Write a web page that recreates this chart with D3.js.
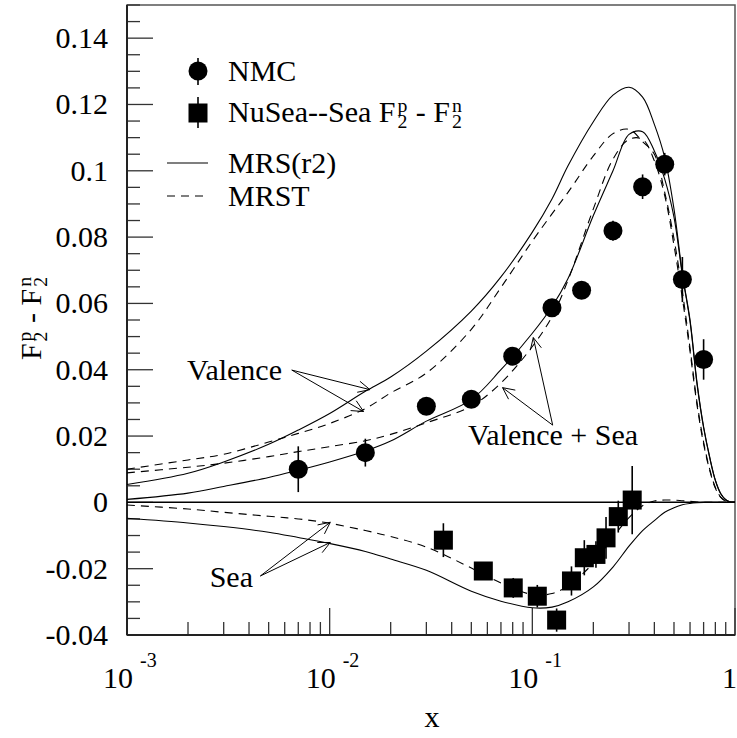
<!DOCTYPE html>
<html>
<head>
<meta charset="utf-8">
<script src="https://cdn.jsdelivr.net/npm/d3@7"></script>
<style>
  html, body { margin: 0; padding: 0; background: #fff; }
  svg { display: block; }
  svg text { font-family: "Liberation Serif", "DejaVu Serif", "Liberation Sans", serif; fill: #000; white-space: pre; }
</style>
</head>
<body>
<svg id="chart" width="737" height="738"></svg>
<script>
// ---- data -------------------------------------------------------------
// NMC measurements of F2p - F2n
const nmcX   = [0.007, 0.015, 0.030, 0.050, 0.080, 0.125, 0.175, 0.25, 0.35, 0.45, 0.55, 0.70];
const nmcY   = [0.0100, 0.0150, 0.0290, 0.0311, 0.0441, 0.0587, 0.0640, 0.0819, 0.0952, 0.1020, 0.0672, 0.0431];
const nmcErr = [0.0069, 0.0042, 0.0020, 0.0020, 0.0020, 0.0020, 0.0020, 0.0030, 0.0037, 0.0034, 0.0068, 0.0061];

// NuSea sea contribution to F2p - F2n
const nuseaX   = [0.0364, 0.0573, 0.0805, 0.1058, 0.1318, 0.156, 0.1805, 0.206, 0.231, 0.2655, 0.311];
const nuseaY   = [-0.0114, -0.0207, -0.0258, -0.0283, -0.0355, -0.0237, -0.0167, -0.0157, -0.0107, -0.0043, 0.0007];
const nuseaErr = [0.0051, 0.0025, 0.0030, 0.0034, 0.0035, 0.0044, 0.0053, 0.0040, 0.0063, 0.0048, 0.0103];

// Parton distribution predictions, sampled on a common x grid
const curveX = [0.001, 0.002, 0.003, 0.005, 0.007, 0.01, 0.015, 0.02, 0.03, 0.05, 0.07, 0.1, 0.125, 0.15,
                0.2, 0.25, 0.3, 0.35, 0.4, 0.45, 0.5, 0.55, 0.6, 0.65, 0.7, 0.75, 0.8, 0.85, 0.9, 0.95, 1.0];
const mrsValence = [0.0054, 0.0088, 0.0122, 0.0175, 0.0218, 0.0268, 0.0335, 0.0378, 0.0456, 0.0577, 0.0680,
                    0.0815, 0.0915, 0.1015, 0.1148, 0.1228, 0.1252, 0.1222, 0.1140, 0.1040, 0.0885, 0.0690,
                    0.0550, 0.0360, 0.0228, 0.0137, 0.0067, 0.0027, 0.0008, 0.0001, 0];
const mrsValSea  = [0.0009, 0.0028, 0.0048, 0.0075, 0.0097, 0.0122, 0.0155, 0.0185, 0.0245, 0.0310, 0.0400,
                    0.0510, 0.0590, 0.0675, 0.0865, 0.1000, 0.1110, 0.1118, 0.1060, 0.0975, 0.0860, 0.0685,
                    0.0545, 0.0355, 0.0225, 0.0135, 0.0066, 0.0026, 0.0008, 0.0001, 0];
const mrsSea     = [-0.0048, -0.0062, -0.0073, -0.0090, -0.0106, -0.0124, -0.0148, -0.0171, -0.0205, -0.0268,
                    -0.0298, -0.0318, -0.0316, -0.0300, -0.0255, -0.0195, -0.0132, -0.0085, -0.0055, -0.0030,
                    -0.0016, -0.0007, -0.0003, -0.0001, 0, 0, 0, 0, 0, 0, 0];
const mrstValence = [0.0100, 0.0128, 0.0145, 0.0182, 0.0208, 0.0238, 0.0283, 0.0330, 0.0390, 0.0522, 0.0648,
                     0.0788, 0.0870, 0.0935, 0.1045, 0.1112, 0.1125, 0.1088, 0.1050, 0.0935, 0.0795, 0.0635,
                     0.0465, 0.0300, 0.0182, 0.0100, 0.0045, 0.0016, 0.0004, 0.0001, 0];
const mrstValSea  = [0.0089, 0.0106, 0.0118, 0.0138, 0.0153, 0.0168, 0.0186, 0.0205, 0.0240, 0.0290, 0.0360,
                     0.0470, 0.0560, 0.0670, 0.0885, 0.1035, 0.1095, 0.1095, 0.1030, 0.0925, 0.0775, 0.0615,
                     0.0455, 0.0292, 0.0176, 0.0097, 0.0043, 0.0015, 0.0004, 0.0001, 0];
const mrstSea     = [-0.0008, -0.0020, -0.0030, -0.0042, -0.0050, -0.0063, -0.0085, -0.0103, -0.0135, -0.0198,
                     -0.0243, -0.0278, -0.0275, -0.0252, -0.0183, -0.0105, -0.0046, -0.0010, 0.0004, 0.0007,
                     0.0007, 0.0005, 0.0003, 0.0001, 0, 0, 0, 0, 0, 0, 0];

// axis tick values
const yMajorTicks = [-0.04, -0.02, 0, 0.02, 0.04, 0.06, 0.08, 0.1, 0.12, 0.14];
const yTickLabels = ["-0.04", "-0.02", "0", "0.02", "0.04", "0.06", "0.08", "0.1", "0.12", "0.14"];
const xDecades    = [0.001, 0.01, 0.1, 1];
const xDecadeExp  = ["-3", "-2", "-1", ""];

// annotation arrows: [label x, label y] -> targets on the curves
const valenceArrow = { from: [0.0065, 0.0399], to: [[0.0158, 0.0340], [0.0147, 0.0274]] };
const valSeaArrow  = { from: [0.126, 0.0233], to: [[0.0713, 0.0346], [0.1011, 0.0497]] };
const seaArrow     = { from: [0.00455, -0.0222], to: [[0.01007, -0.0060], [0.01007, -0.0121]] };

// ---- layout -----------------------------------------------------------
const L = 127, R = 735, T = 5, B = 635;
const svg = d3.select("#chart");
const x = d3.scaleLog().domain([1e-3, 1]).range([L, R]);
const y = d3.scaleLinear().domain([-0.04, 0.15]).range([B, T]);

const FS = 30;      // main text size
const SUPFS = 20;   // exponent size on the x axis

// one text element made of plain pieces and stacked sub/superscripts
function richText(g, parts, size) {
  const t = g.append("text");
  let cx = 0;
  const s = size * 0.66;
  parts.forEach(p => {
    if (typeof p === "string") {
      const ts = t.append("tspan").attr("x", cx).attr("y", 0).attr("font-size", size).text(p);
      cx += ts.node().getComputedTextLength();
    } else {
      cx += 2;
      const a = t.append("tspan").attr("x", cx).attr("y", size * 0.2).attr("font-size", s).text(p.sub);
      const b = t.append("tspan").attr("x", cx).attr("y", -size * 0.33).attr("font-size", s).text(p.sup);
      cx += Math.max(a.node().getComputedTextLength(), b.node().getComputedTextLength()) + 1;
    }
  });
  return cx;
}

// clip for the plotted curves
svg.append("defs").append("clipPath").attr("id", "plotclip")
  .append("rect").attr("x", L).attr("y", T).attr("width", R - L).attr("height", B - T);

// frame
svg.append("rect").attr("x", L).attr("y", T).attr("width", R - L).attr("height", B - T)
  .attr("fill", "none").attr("stroke", "#555").attr("stroke-width", 1.5);

// ---- axes -------------------------------------------------------------
const yAxisG = svg.append("g");
const yMinor = d3.range(-0.04, 0.1501, 0.005).map(v => +v.toFixed(3));
yAxisG.selectAll("line").data(yMinor).join("line")
  .attr("x1", L).attr("x2", d => yMajorTicks.some(m => Math.abs(m - d) < 1e-6) ? L + 26 : L + 13)
  .attr("y1", d => y(d)).attr("y2", d => y(d))
  .attr("stroke", "#333").attr("stroke-width", 1.3);
yAxisG.selectAll("text").data(yMajorTicks).join("text")
  .attr("x", 108).attr("y", d => y(d) + 10)
  .attr("text-anchor", "end").attr("font-size", FS)
  .text((d, i) => yTickLabels[i]);

const xAxisG = svg.append("g");
const xMinor = [];
[0.001, 0.01, 0.1].forEach(dec => { for (let k = 2; k <= 9; k++) xMinor.push(dec * k); });
xAxisG.selectAll("line.minor").data(xMinor).join("line").attr("class", "minor")
  .attr("x1", d => x(d)).attr("x2", d => x(d)).attr("y1", B).attr("y2", B - 13)
  .attr("stroke", "#333").attr("stroke-width", 1.3);
xAxisG.selectAll("line.major").data(xDecades).join("line").attr("class", "major")
  .attr("x1", d => x(d)).attr("x2", d => x(d)).attr("y1", B).attr("y2", B - 27)
  .attr("stroke", "#333").attr("stroke-width", 1.3);
xDecades.forEach((d, i) => {
  if (xDecadeExp[i] === "") {
    xAxisG.append("text").attr("x", 737).attr("y", 688).attr("text-anchor", "end")
      .attr("font-size", FS).text("1");
  } else {
    xAxisG.append("text").attr("x", x(d) + 6).attr("y", 688).attr("text-anchor", "end")
      .attr("font-size", FS).text("10");
    xAxisG.append("text").attr("x", x(d) + 13).attr("y", 667).attr("font-size", SUPFS)
      .text(xDecadeExp[i]);
  }
});

// axis lines
svg.append("line").attr("x1", L).attr("x2", L).attr("y1", T).attr("y2", B)
  .attr("stroke", "#222").attr("stroke-width", 2);
svg.append("line").attr("x1", L).attr("x2", R).attr("y1", B).attr("y2", B)
  .attr("stroke", "#222").attr("stroke-width", 2);

// axis titles
svg.append("text").attr("x", 432).attr("y", 727).attr("text-anchor", "middle")
  .attr("font-size", FS).text("x");
const yTitle = svg.append("g");
const yw = richText(yTitle, ["F", { sub: "2", sup: "p" }, " - F", { sub: "2", sup: "n" }], FS);
yTitle.attr("transform", `translate(41, ${318 + yw / 2}) rotate(-90)`);

// zero line
svg.append("line").attr("x1", L).attr("x2", R).attr("y1", y(0)).attr("y2", y(0))
  .attr("stroke", "#000").attr("stroke-width", 1.5);

// ---- curves -----------------------------------------------------------
const line = d3.line().x(d => x(d[0])).y(d => y(d[1])).curve(d3.curveCatmullRom.alpha(0.5));
const curves = [
  { ys: mrsValence, dash: null }, { ys: mrsValSea, dash: null }, { ys: mrsSea, dash: null },
  { ys: mrstValence, dash: "8,6" }, { ys: mrstValSea, dash: "8,6" }, { ys: mrstSea, dash: "8,6" }
];
const curveG = svg.append("g").attr("clip-path", "url(#plotclip)");
curves.forEach(c => {
  curveG.append("path").datum(curveX.map((xv, i) => [xv, c.ys[i]]))
    .attr("d", line).attr("fill", "none").attr("stroke", "#000").attr("stroke-width", 1.1)
    .attr("stroke-dasharray", c.dash);
});

// ---- data points ------------------------------------------------------
const ptG = svg.append("g");
nmcX.forEach((xv, i) => {
  ptG.append("line").attr("x1", x(xv)).attr("x2", x(xv))
    .attr("y1", y(nmcY[i] - nmcErr[i])).attr("y2", y(nmcY[i] + nmcErr[i]))
    .attr("stroke", "#000").attr("stroke-width", 1.6);
  ptG.append("circle").attr("cx", x(xv)).attr("cy", y(nmcY[i])).attr("r", 9.5).attr("fill", "#000");
});
nuseaX.forEach((xv, i) => {
  ptG.append("line").attr("x1", x(xv)).attr("x2", x(xv))
    .attr("y1", y(nuseaY[i] - nuseaErr[i])).attr("y2", y(nuseaY[i] + nuseaErr[i]))
    .attr("stroke", "#000").attr("stroke-width", 1.6);
  ptG.append("rect").attr("x", x(xv) - 9.5).attr("y", y(nuseaY[i]) - 9.5)
    .attr("width", 19).attr("height", 19).attr("fill", "#000");
});

// ---- annotations ------------------------------------------------------
function arrow(g, a) {
  const fx = x(a.from[0]), fy = y(a.from[1]);
  a.to.forEach(t => {
    const tx = x(t[0]), ty = y(t[1]);
    g.append("line").attr("x1", fx).attr("y1", fy).attr("x2", tx).attr("y2", ty)
      .attr("stroke", "#000").attr("stroke-width", 1);
    const ang = Math.atan2(ty - fy, tx - fx);
    [0.45, -0.45].forEach(da => {
      g.append("line").attr("x1", tx).attr("y1", ty)
        .attr("x2", tx - 13 * Math.cos(ang + da)).attr("y2", ty - 13 * Math.sin(ang + da))
        .attr("stroke", "#000").attr("stroke-width", 1);
    });
  });
}
const annG = svg.append("g");
arrow(annG, valenceArrow);
arrow(annG, valSeaArrow);
arrow(annG, seaArrow);
annG.append("text").attr("x", 282).attr("y", 380).attr("text-anchor", "end").attr("font-size", FS).text("Valence");
annG.append("text").attr("x", 553).attr("y", 445).attr("text-anchor", "middle").attr("font-size", FS).text("Valence + Sea");
annG.append("text").attr("x", 253).attr("y", 587).attr("text-anchor", "end").attr("font-size", FS).text("Sea");

// ---- legend -----------------------------------------------------------
const lg = svg.append("g");
lg.append("line").attr("x1", 198).attr("x2", 198).attr("y1", 58).attr("y2", 85).attr("stroke", "#000").attr("stroke-width", 1.6);
lg.append("circle").attr("cx", 198).attr("cy", 71).attr("r", 9.5).attr("fill", "#000");
lg.append("text").attr("x", 228).attr("y", 81).attr("font-size", FS).text("NMC");

lg.append("line").attr("x1", 198).attr("x2", 198).attr("y1", 97).attr("y2", 128).attr("stroke", "#000").attr("stroke-width", 1.6);
lg.append("rect").attr("x", 188.5).attr("y", 103.5).attr("width", 19).attr("height", 19).attr("fill", "#000");
const nuLabel = lg.append("g").attr("transform", "translate(228,122)");
richText(nuLabel, ["NuSea--Sea F", { sub: "2", sup: "p" }, " - F", { sub: "2", sup: "n" }], FS);

lg.append("line").attr("x1", 167).attr("x2", 208).attr("y1", 163).attr("y2", 163).attr("stroke", "#000").attr("stroke-width", 1.1);
lg.append("text").attr("x", 228).attr("y", 173).attr("font-size", FS).text("MRS(r2)");
lg.append("line").attr("x1", 167).attr("x2", 208).attr("y1", 196).attr("y2", 196).attr("stroke", "#000")
  .attr("stroke-width", 1.1).attr("stroke-dasharray", "8,6");
lg.append("text").attr("x", 228).attr("y", 206).attr("font-size", FS).text("MRST");
</script>
</body>
</html>
